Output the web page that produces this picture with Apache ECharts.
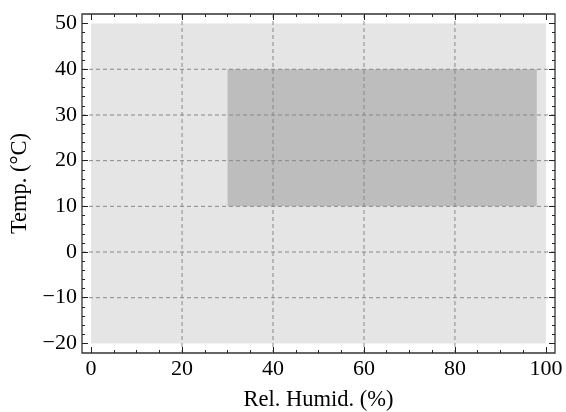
<!DOCTYPE html>
<html>
<head>
<meta charset="utf-8">
<script src="https://cdn.jsdelivr.net/npm/echarts@6/dist/echarts.min.js"></script>
<style>
html,body{margin:0;padding:0;background:#fff;}
#chart{width:566px;height:412px;}
</style>
</head>
<body>
<div id="chart"></div>
<script>
// ---- data ----
const regionNames = ['Storage range', 'Operating range'];
const humidMin = [0, 30];
const humidMax = [100, 98];
const tempMin = [-20, 10];
const tempMax = [50, 40];
const regionColors = ['#e5e5e5', '#bdbdbd'];

const xMajorTicks = [0, 20, 40, 60, 80, 100];
const xMinorTicks = [5, 10, 15, 25, 30, 35, 45, 50, 55, 65, 70, 75, 85, 90, 95];
const yMajorTicks = [-20, -10, 0, 10, 20, 30, 40, 50];
const yMinorTicks = [-18, -16, -14, -12, -8, -6, -4, -2, 2, 4, 6, 8, 12, 14, 16, 18,
                     22, 24, 26, 28, 32, 34, 36, 38, 42, 44, 46, 48];

const xGridValues = [20, 40, 60, 80];
const yGridValues = [-10, 0, 10, 20, 30, 40];

const xTitle = 'Rel. Humid. (%)';
const yTitle = 'Temp. (\u00B0C)';

// ---- layout ----
const frame = {left: 82, right: 555, top: 14, bottom: 353};
const xDom = [-2, 102];
const yDom = [-22.1, 52.1];

const FONT = 'Liberation Serif';
const labelStyle = {fontFamily: FONT, fontSize: 22, color: '#000'};
const tickColor = '#222';
const fmt = v => String(v).replace('-', '\u2212');

function axis(kind, position, major, showLabel, dom, extra) {
  const ticks = major ? (kind === 'x' ? xMajorTicks : yMajorTicks) : (kind === 'x' ? xMinorTicks : yMinorTicks);
  return Object.assign({
    type: 'value', gridIndex: 0, position: position, z: 10,
    min: dom[0], max: dom[1],
    axisLine: {show: false, onZero: false},
    axisTick: {show: true, inside: true, length: major ? 6 : 3, customValues: ticks,
               lineStyle: {color: tickColor, width: 1}},
    axisLabel: showLabel
      ? Object.assign({show: true, customValues: ticks, formatter: fmt, margin: kind === 'x' ? 5 : 5,
                       showMinLabel: true, showMaxLabel: true}, labelStyle)
      : {show: false},
    splitLine: {show: false},
    minorTick: {show: false},
    minorSplitLine: {show: false}
  }, extra || {});
}

const regionData = regionNames.map((n, i) => [humidMin[i], humidMax[i], tempMin[i], tempMax[i]]);
const gridLineData = xGridValues.map(v => ['x', v]).concat(yGridValues.map(v => ['y', v]));

const chart = echarts.init(document.getElementById('chart'), null, {renderer: 'canvas'});
chart.setOption({
  animation: false,
  grid: [
    {left: frame.left, top: frame.top, width: frame.right - frame.left, height: frame.bottom - frame.top,
     show: true, borderColor: '#333', borderWidth: 1.3, backgroundColor: 'transparent',
     containLabel: false, outerBoundsMode: 'none'}
  ],
  xAxis: [
    axis('x', 'bottom', true, true, xDom, {
      name: xTitle, nameLocation: 'middle', nameGap: 36,
      nameTextStyle: {fontFamily: FONT, fontSize: 22.5, color: '#000'}}),
    axis('x', 'bottom', false, false, xDom),
    axis('x', 'top', true, false, xDom),
    axis('x', 'top', false, false, xDom)
  ],
  yAxis: [
    axis('y', 'left', true, true, yDom, {
      name: yTitle, nameLocation: 'middle', nameGap: 47, nameRotate: 90,
      nameTextStyle: {fontFamily: FONT, fontSize: 22.5, color: '#000'}}),
    axis('y', 'left', false, false, yDom),
    axis('y', 'right', true, false, yDom),
    axis('y', 'right', false, false, yDom)
  ],
  series: [
    {
      type: 'custom', xAxisIndex: 0, yAxisIndex: 0, z: 2, silent: true,
      data: regionData,
      renderItem: function (params, api) {
        const p0 = api.coord([api.value(0), api.value(3)]);
        const p1 = api.coord([api.value(1), api.value(2)]);
        return {type: 'rect', shape: {x: p0[0], y: p0[1], width: p1[0] - p0[0], height: p1[1] - p0[1]},
                style: {fill: regionColors[params.dataIndex]}};
      }
    },
    {
      type: 'custom', xAxisIndex: 0, yAxisIndex: 0, z: 3, silent: true,
      data: gridLineData.map(d => [d[0] === 'x' ? d[1] : 0, d[0] === 'y' ? d[1] : 0]),
      renderItem: function (params, api) {
        const cs = params.coordSys;
        const d = gridLineData[params.dataIndex];
        let shape;
        if (d[0] === 'x') {
          const p = api.coord([d[1], 0]);
          shape = {x1: p[0], y1: cs.y, x2: p[0], y2: cs.y + cs.height};
        } else {
          const p = api.coord([0, d[1]]);
          shape = {x1: cs.x, y1: p[1], x2: cs.x + cs.width, y2: p[1]};
        }
        return {type: 'line', shape: shape,
                style: {stroke: '#888', lineWidth: 1, lineDash: [4, 3], fill: null}};
      }
    }
  ]
});
</script>
</body>
</html>
